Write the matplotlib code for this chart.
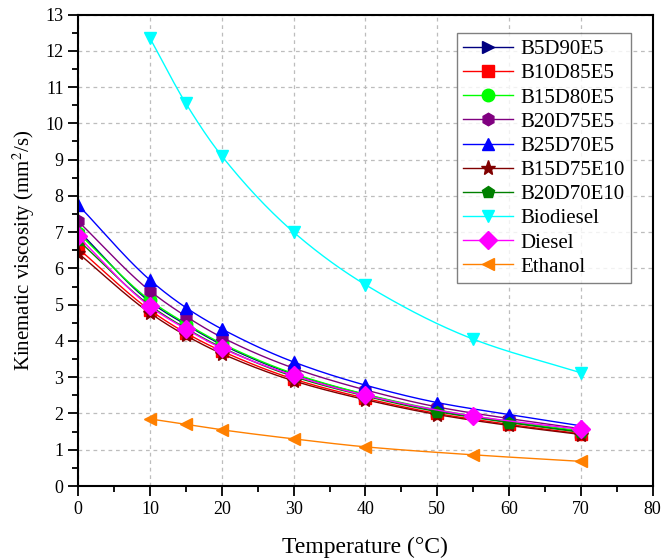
import numpy as np
import matplotlib
matplotlib.use('Agg')
import matplotlib.pyplot as plt
from matplotlib.ticker import MultipleLocator

plt.rcParams['font.family'] = ['Liberation Serif', 'DejaVu Serif']
plt.rcParams['mathtext.fontset'] = 'stix'

# data
temp_blend = [0, 10, 15, 20, 30, 40, 50, 60, 70]
temp_pure = [10, 15, 20, 30, 40, 55, 70]
temp_diesel = [0, 10, 15, 20, 30, 40, 55, 70]

b5d90e5 = [7.05, 5.08, 4.45, 3.90, 3.08, 2.52, 2.08, 1.76, 1.50]
b10d85e5 = [6.55, 4.85, 4.22, 3.72, 2.95, 2.42, 2.00, 1.70, 1.44]
b15d80e5 = [6.98, 5.12, 4.48, 3.93, 3.10, 2.53, 2.10, 1.78, 1.52]
b20d75e5 = [7.30, 5.38, 4.68, 4.10, 3.25, 2.65, 2.18, 1.86, 1.58]
b25d70e5 = [7.75, 5.68, 4.92, 4.33, 3.42, 2.78, 2.30, 1.97, 1.66]
b15d75e10 = [6.42, 4.77, 4.15, 3.65, 2.90, 2.38, 1.97, 1.67, 1.42]
b20d70e10 = [6.78, 4.98, 4.35, 3.82, 3.02, 2.48, 2.05, 1.75, 1.48]
biodiesel = [12.35, 10.55, 9.10, 7.00, 5.55, 4.05, 3.12]
diesel = [6.88, 4.95, 4.33, 3.80, 3.05, 2.50, 1.93, 1.56]
ethanol = [1.85, 1.70, 1.55, 1.30, 1.08, 0.86, 0.68]

series = [
    ('B5D90E5', temp_blend, b5d90e5, '#000080', '>'),
    ('B10D85E5', temp_blend, b10d85e5, '#FF0000', 's'),
    ('B15D80E5', temp_blend, b15d80e5, '#00FF00', 'o'),
    ('B20D75E5', temp_blend, b20d75e5, '#800080', 'h'),
    ('B25D70E5', temp_blend, b25d70e5, '#0000FF', '^'),
    ('B15D75E10', temp_blend, b15d75e10, '#800000', '*'),
    ('B20D70E10', temp_blend, b20d70e10, '#008000', 'p'),
    ('Biodiesel', temp_pure, biodiesel, '#00FFFF', 'v'),
    ('Diesel', temp_diesel, diesel, '#FF00FF', 'D'),
    ('Ethanol', temp_pure, ethanol, '#FF8000', '<'),
]


def smooth(x, y, n=200):
    # monotone cubic (pchip) just for drawing the connecting line
    x = np.asarray(x, float)
    y = np.asarray(y, float)
    h = np.diff(x)
    d = np.diff(y) / h
    m = np.zeros_like(y)
    for k in range(1, len(x) - 1):
        if d[k - 1] * d[k] > 0:
            w1 = 2 * h[k] + h[k - 1]
            w2 = h[k] + 2 * h[k - 1]
            m[k] = (w1 + w2) / (w1 / d[k - 1] + w2 / d[k])
    m[0] = d[0]
    m[-1] = d[-1]
    xs = np.linspace(x[0], x[-1], n)
    idx = np.clip(np.searchsorted(x, xs) - 1, 0, len(x) - 2)
    t = (xs - x[idx]) / h[idx]
    h00 = 2 * t**3 - 3 * t**2 + 1
    h10 = t**3 - 2 * t**2 + t
    h01 = -2 * t**3 + 3 * t**2
    h11 = t**3 - t**2
    ys = h00 * y[idx] + h10 * h[idx] * m[idx] + h01 * y[idx + 1] + h11 * h[idx] * m[idx + 1]
    return xs, ys


fig = plt.figure(figsize=(6.62, 5.58), dpi=100)
ax = fig.add_axes([0.118, 0.129, 0.868, 0.845])

for name, x, y, c, mk in series:
    xs, ys = smooth(x, y)
    ax.plot(xs, ys, color=c, lw=1.0)
    ms = 11 if mk == '*' else 9
    ax.plot(x, y, ls='none', marker=mk, color=c, ms=ms, mec=c)
    ax.plot([], [], color=c, lw=1.0, marker=mk, ms=ms, label=name)

ax.set_xlim(0, 80)
ax.set_ylim(0, 13)
ax.xaxis.set_major_locator(MultipleLocator(10))
ax.xaxis.set_minor_locator(MultipleLocator(5))
ax.yaxis.set_major_locator(MultipleLocator(1))
ax.yaxis.set_minor_locator(MultipleLocator(0.5))
ax.tick_params(which='major', direction='out', length=7, width=1.3, labelsize=13)
ax.tick_params(which='minor', direction='out', length=4, width=1.3)
for s in ax.spines.values():
    s.set_linewidth(1.5)
ax.grid(True, which='major', color='#bdbdbd', ls=(0, (3, 3)), lw=0.9)
ax.set_axisbelow(True)

ax.set_xlabel('Temperature (°C)', fontsize=17, labelpad=14)
ax.set_ylabel('Kinematic viscosity (mm$^2$/s)', fontsize=15, labelpad=6)

leg = ax.legend(loc='upper right', bbox_to_anchor=(0.962, 0.96), fontsize=15,
                frameon=True, fancybox=False, edgecolor='#606060',
                handlelength=2.4, labelspacing=0.22, borderpad=0.3,
                handletextpad=0.35, borderaxespad=0)
leg.get_frame().set_linewidth(1.0)

plt.savefig('out.png', dpi=100)
